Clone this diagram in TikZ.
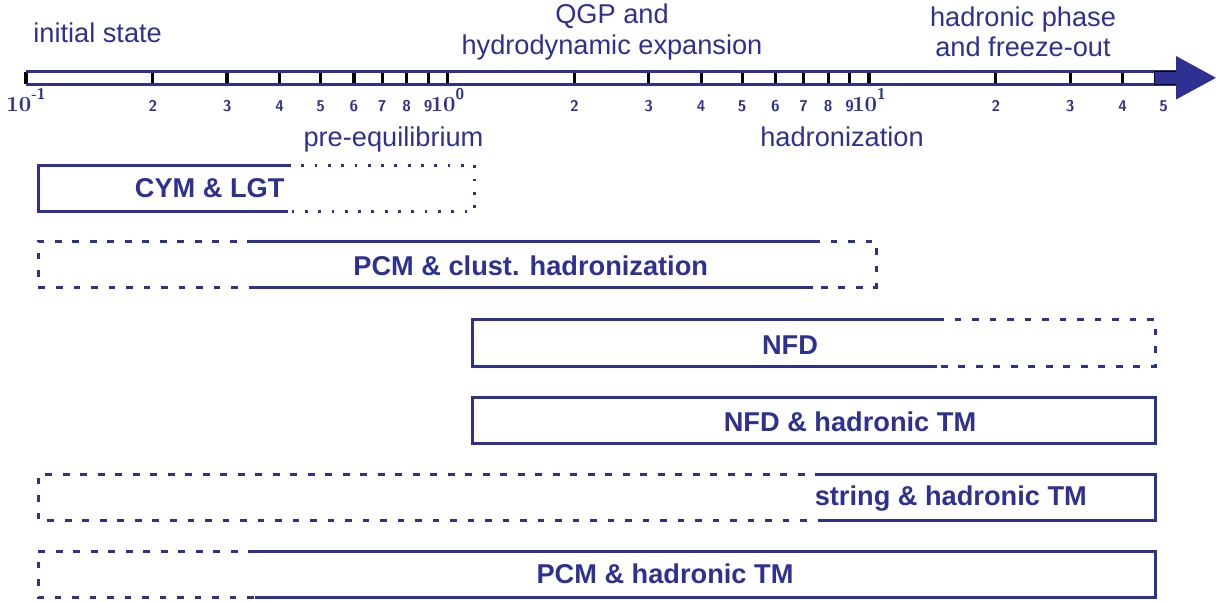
\documentclass[tikz,border=0pt]{standalone}
\usepackage{fontspec}
\newfontfamily\arial{Liberation Sans}
\definecolor{navy}{RGB}{46,49,146}
\tikzset{
  phase/.style={font=\arial\fontsize{13.6}{16}\selectfont, text=navy, inner sep=0pt, anchor=base},
  model/.style={font=\arial\bfseries\fontsize{13.6}{16}\selectfont, text=navy, inner sep=0pt, anchor=base},
  boxline/.style={draw=navy, line width=1.5pt},
  solidpart/.style={boxline},
  dashpart/.style={boxline, dash pattern=on 3.35pt off 5.4pt},
  dotpart/.style={boxline, dash pattern=on 1.4pt off 5.25pt},
  axtick/.style={draw=black, line width=1.6pt},
  axline/.style={draw=navy, line width=1.25pt},
  minorlab/.style={font=\sffamily\bfseries\fontsize{7.8}{9}\selectfont, text=navy, anchor=base, inner sep=0pt},
  decadelab/.style={font=\bfseries\fontsize{10.8}{12}\selectfont, text=navy, anchor=base, inner sep=0pt},
}
\newcommand{\expo}[1]{\raisebox{6.3pt}{\sffamily\bfseries\fontsize{7.8}{9}\selectfont #1}}
\begin{document}
\begin{tikzpicture}[x=0.5pt, y=-0.5pt]
\useasboundingbox (0,0) rectangle (1220,601);

% --- time axis (log scale, 421.5 px per decade) ---
\foreach \k/\mmax in {0/9,1/9,2/4}{
  \foreach \m in {1,...,\mmax}{
    \pgfmathsetmacro\xx{26+(\k+log10(\m))*421.5}
    \draw[axtick] (\xx,72) -- (\xx,84);
    \ifnum\m=1
      \pgfmathtruncatemacro\ee{\k-1}
      \node[decadelab] (dec-\k) at (\xx,111.7) {10\expo{\ee}};
    \else
      \node[minorlab] (lab-\k-\m) at (\xx,111.7) {\m};
    \fi
  }
}
\node[minorlab] (lab-2-5) at (1163.6,111.7) {5};
\draw[axline] (26,71.5) -- (1186,71.5);
\draw[axline] (26,84.5) -- (1186,84.5);
\draw[fill=navy, draw=black, line width=0.5pt] (1154,71.5) rectangle (1186,84.5);
\fill[navy] (1176,56) -- (1216,77.8) -- (1176,99.5) -- cycle;

% --- phase labels ---
\node[phase, anchor=base west] (init) at (33,42) {initial state};
\node[phase] (qgp1) at (612,23.5) {QGP and};
\node[phase] (qgp2) at (612,54.3) {hydrodynamic expansion};
\node[phase] (hadr1) at (1023,26) {hadronic phase};
\node[phase] (hadr2) at (1023,56.8) {and freeze-out};
\node[phase] (preeq) at (393.5,146) {pre-equilibrium};
\node[phase] (hadz) at (842,146) {hadronization};

% --- CYM & LGT ---
\draw[solidpart] (288,165) -- (38,165) -- (38,211.7) -- (288,211.7);
\draw[dotpart] (288,165) -- (474,165) -- (474,211.7) -- (288,211.7);
\node[model] (cym) at (209.7,197.3) {CYM \& LGT};

% --- PCM & clust. hadronization ---
\draw[dashpart] (254,241) -- (38,241) -- (38,287) -- (254,287);
\draw[solidpart] (254,241) -- (813,241);
\draw[solidpart] (254,287) -- (813,287);
\draw[dashpart] (813,241) -- (876,241) -- (876,287) -- (813,287);
\node[model] (pcmc) at (530.7,275.7) {PCM \& clust. hadronization};

% --- NFD ---
\draw[solidpart] (937,319) -- (472,319) -- (472,366) -- (937,366);
\draw[dashpart] (937,319) -- (1155,319) -- (1155,366) -- (937,366);
\node[model] (nfd) at (790,354) {NFD};

% --- NFD & hadronic TM ---
\draw[solidpart] (472,397) rectangle (1155,443.5);
\node[model] (nfdtm) at (850,431.7) {NFD \& hadronic TM};

% --- string & hadronic TM ---
\draw[dashpart] (822,474) -- (38,474) -- (38,520.5) -- (822,520.5);
\draw[solidpart] (822,474) -- (1155,474) -- (1155,520.5) -- (822,520.5);
\node[model] (strtm) at (950.8,505) {string \& hadronic TM};

% --- PCM & hadronic TM ---
\draw[dashpart] (255,551) -- (38,551) -- (38,597.5) -- (255,597.5);
\draw[solidpart] (255,551) -- (1155,551) -- (1155,597.5) -- (255,597.5);
\node[model] (pcmtm) at (665,583.3) {PCM \& hadronic TM};
\end{tikzpicture}
\end{document}
